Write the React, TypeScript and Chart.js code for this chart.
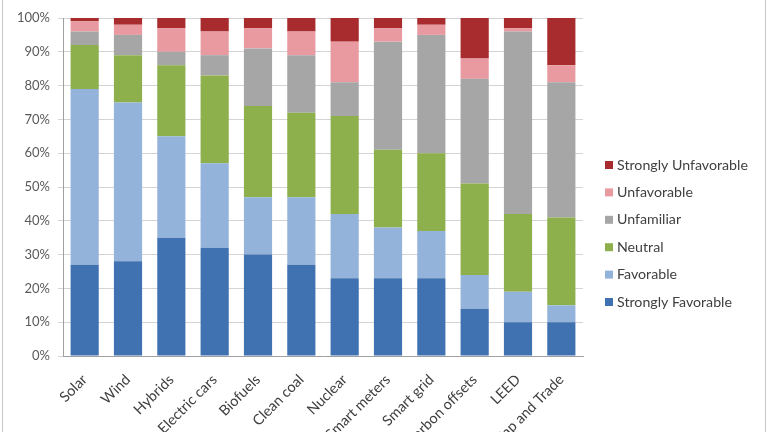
import React, { useEffect, useRef } from "react";
import { Chart, registerables } from "chart.js";

Chart.register(...registerables);

const categories = [
  "Solar", "Wind", "Hybrids", "Electric cars", "Biofuels", "Clean coal",
  "Nuclear", "Smart meters", "Smart grid", "Carbon offsets", "LEED", "Cap and Trade",
];
const stronglyFavorable = [27, 28, 35, 32, 30, 27, 23, 23, 23, 14, 10, 10];
const favorable = [52, 47, 30, 25, 17, 20, 19, 15, 14, 10, 9, 5];
const neutral = [13, 14, 21, 26, 27, 25, 29, 23, 23, 27, 23, 26];
const unfamiliar = [4, 6, 4, 6, 17, 17, 10, 32, 35, 31, 54, 40];
const unfavorable = [3, 3, 7, 7, 6, 7, 12, 4, 3, 6, 1, 5];
const stronglyUnfavorable = [1, 2, 3, 4, 3, 4, 7, 3, 2, 12, 3, 14];
const yTicks = [0, 10, 20, 30, 40, 50, 60, 70, 80, 90, 100];

const FONT = "Lato, 'Open Sans', sans-serif";

const legendPlugin = {
  id: "customLegend",
  beforeDraw(chart: any) {
    const ctx = chart.ctx;
    ctx.save();
    ctx.strokeStyle = "#c8c8c8";
    ctx.lineWidth = 1;
    ctx.beginPath();
    ctx.moveTo(2.5, 0);
    ctx.lineTo(2.5, chart.height);
    ctx.moveTo(765.5, 0);
    ctx.lineTo(765.5, chart.height);
    ctx.stroke();
    ctx.restore();
  },
  afterDraw(chart: any) {
    const ctx = chart.ctx;
    const ds = chart.data.datasets.slice().reverse();
    ctx.save();
    ctx.font = `14.2px ${FONT}`;
    ctx.textBaseline = "middle";
    ctx.textAlign = "left";
    ds.forEach((d: any, i: number) => {
      const y = 165 + i * 27.4;
      ctx.fillStyle = d.backgroundColor;
      ctx.fillRect(605, y - 4, 8, 8);
      ctx.fillStyle = "#404040";
      ctx.fillText(d.label, 617, y);
    });
    ctx.restore();
  },
};

export default function App() {
  const ref = useRef<HTMLCanvasElement | null>(null);
  useEffect(() => {
    if (!ref.current) return;
    const mk = (label: string, data: number[], color: string) => ({
      label,
      data,
      backgroundColor: color,
      borderWidth: 0,
      barPercentage: 0.65,
      categoryPercentage: 1,
    });
    const chart = new Chart(ref.current, {
      type: "bar",
      data: {
        labels: categories,
        datasets: [
          mk("Strongly Favorable", stronglyFavorable, "#4071b0"),
          mk("Favorable", favorable, "#94b3db"),
          mk("Neutral", neutral, "#8db04c"),
          mk("Unfamiliar", unfamiliar, "#a6a6a6"),
          mk("Unfavorable", unfavorable, "#e89aa0"),
          mk("Strongly Unfavorable", stronglyUnfavorable, "#a82b2e"),
        ],
      },
      options: {
        responsive: false,
        animation: false,
        devicePixelRatio: 1,
        layout: { padding: { left: 0, top: 18, right: 185, bottom: 0 } },
        plugins: { legend: { display: false }, tooltip: { enabled: false } },
        scales: {
          x: {
            stacked: true,
            grid: { display: false, drawTicks: false },
            border: { color: "#a0a0a0" },
            ticks: {
              maxRotation: 45,
              minRotation: 45,
              autoSkip: false,
              padding: 15,
              color: "#404040",
              font: { family: FONT, size: 14.5 },
            },
            afterFit: (s: any) => { s.height = 76; },
          },
          y: {
            stacked: true,
            min: 0,
            max: 100,
            afterBuildTicks: (s: any) => { s.ticks = yTicks.map((v) => ({ value: v })); },
            grid: { color: "#d4d4d4", tickLength: 5 },
            border: { color: "#a0a0a0" },
            ticks: {
              padding: 8,
              color: "#595959",
              font: { family: FONT, size: 13 },
              callback: (v: any) => v + "%",
            },
            afterFit: (s: any) => { s.width = 63; },
          },
        },
      },
      plugins: [legendPlugin],
    });
    return () => chart.destroy();
  }, []);
  return (
    <div style={{ position: "fixed", left: 0, top: 0, width: 768, height: 432, background: "#fff" }}>
      <canvas ref={ref} width={768} height={432} style={{ width: 768, height: 432 }} />
    </div>
  );
}
